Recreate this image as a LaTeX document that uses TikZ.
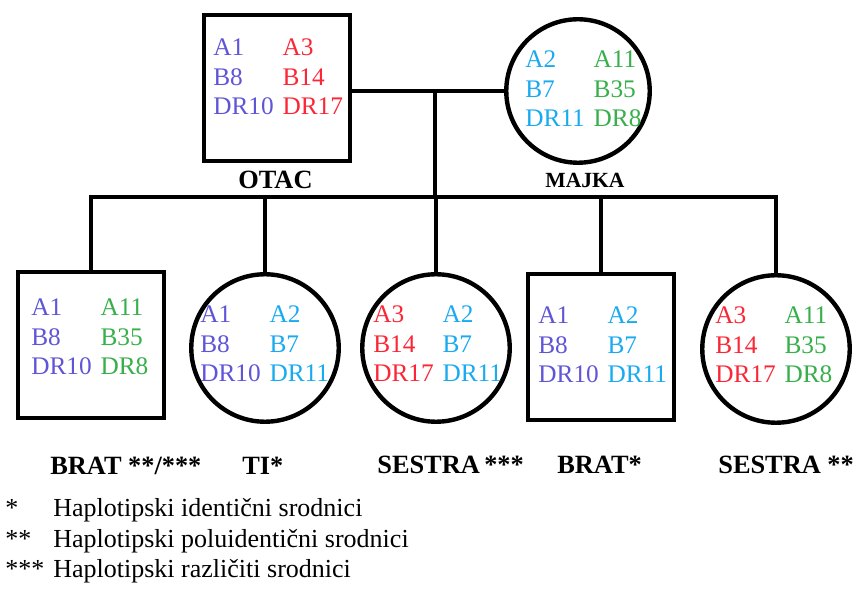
\documentclass[tikz,border=0pt]{standalone}
\usepackage{fontspec}
\setmainfont{Liberation Serif}
\usetikzlibrary{positioning,calc}

\definecolor{hlaPlava}{RGB}{95,85,215}
\definecolor{hlaCrvena}{RGB}{250,40,55}
\definecolor{hlaSvetla}{RGB}{25,170,240}
\definecolor{hlaZelena}{RGB}{55,175,75}

% dva haplotipa: boja, A, B, DR (levo) i boja, A, B, DR (desno)
\newcommand{\haplotip}[8]{%
  \begin{tabular}{@{}l@{\hspace{5pt}}l@{}}
  \textcolor{#1}{#2} & \textcolor{#5}{#6}\\
  \textcolor{#1}{#3} & \textcolor{#5}{#7}\\
  \textcolor{#1}{#4} & \textcolor{#5}{#8}
  \end{tabular}}

\begin{document}
\begin{tikzpicture}[x=0.02cm, y=-0.02cm,
  musko/.style={draw, line width=2.5pt, rectangle, minimum width=2.92cm, minimum height=2.92cm, inner sep=0pt},
  zensko/.style={draw, line width=2.5pt, circle, minimum size=2.95cm, inner sep=0pt},
  veza/.style={line width=2.5pt},
  haplo/.style={anchor=north west, inner sep=0pt, font=\fontsize{14.4}{17}\selectfont},
  ime/.style={anchor=base west, inner sep=0pt, font=\fontsize{15}{17}\selectfont\bfseries},
  legenda/.style={anchor=base west, inner sep=0pt, font=\fontsize{14.8}{17}\selectfont}]

\useasboundingbox (0,0) rectangle (855,590);

% Roditelji
\node[musko] (otac) at (277,88) {};
\node[zensko, minimum size=2.87cm] (majka) at (578,91) {};
\node[haplo] (otacH) at (213,34) {\haplotip{hlaPlava}{A1}{B8}{DR10}{hlaCrvena}{A3}{B14}{DR17}};
\node[haplo] (majkaH) at (525,46) {\haplotip{hlaSvetla}{A2}{B7}{DR11}{hlaZelena}{A11}{B35}{DR8}};
\node[ime] (otacIme) at (238,189) {OTAC};
\node[ime, font=\fontsize{12.3}{15}\selectfont\bfseries] (majkaIme) at (545,188) {MAJKA};

% Deca
\node[musko] (brat) at (91,345) {};
\node[zensko] (ti) at (265,348) {};
\node[zensko] (sestra) at (436,348) {};
\node[musko] (bratdva) at (601,347) {};
\node[zensko] (sestradva) at (776,349) {};

\node[haplo] (bratH) at (31,294) {\haplotip{hlaPlava}{A1}{B8}{DR10}{hlaZelena}{A11}{B35}{DR8}};
\node[haplo] (tiH) at (200,301) {\haplotip{hlaPlava}{A1}{B8}{DR10}{hlaSvetla}{A2}{B7}{DR11}};
\node[haplo] (sestraH) at (373,301) {\haplotip{hlaCrvena}{A3}{B14}{DR17}{hlaSvetla}{A2}{B7}{DR11}};
\node[haplo] (bratdvaH) at (538,302) {\haplotip{hlaPlava}{A1}{B8}{DR10}{hlaSvetla}{A2}{B7}{DR11}};
\node[haplo] (sestradvaH) at (715,302) {\haplotip{hlaCrvena}{A3}{B14}{DR17}{hlaZelena}{A11}{B35}{DR8}};

\node[ime] (bratIme) at (50,475) {BRAT **/***};
\node[ime] (tiIme) at (242,475) {TI*};
\node[ime] (sestraIme) at (377,474) {SESTRA\,***};
\node[ime] (bratdvaIme) at (557,474) {BRAT*};
\node[ime] (sestradvaIme) at (718,474) {SESTRA **};

% Veze
\coordinate (brak) at (435,91);
\coordinate (deca) at (435,197);
\draw[veza] (otac.east |- brak) -- (majka.west |- brak);
\draw[veza] (brak) -- (deca);
\draw[veza] (brat.north) -- (brat.north |- deca) -- (sestradva.north |- deca) -- (sestradva.north);
\foreach \n in {ti,sestra,bratdva}
  \draw[veza] (\n.north |- deca) -- (\n.north);

% Legenda
\foreach \z/\t [count=\i] in {*/identični, **/poluidentični, ***/različiti} {
  \node[legenda] (zvezda\i) at (5,486.5+30.5*\i) {\z};
  \node[legenda] (opis\i) at (53,486.5+30.5*\i) {Haplotipski \t\ srodnici};
}

\end{tikzpicture}
\end{document}
